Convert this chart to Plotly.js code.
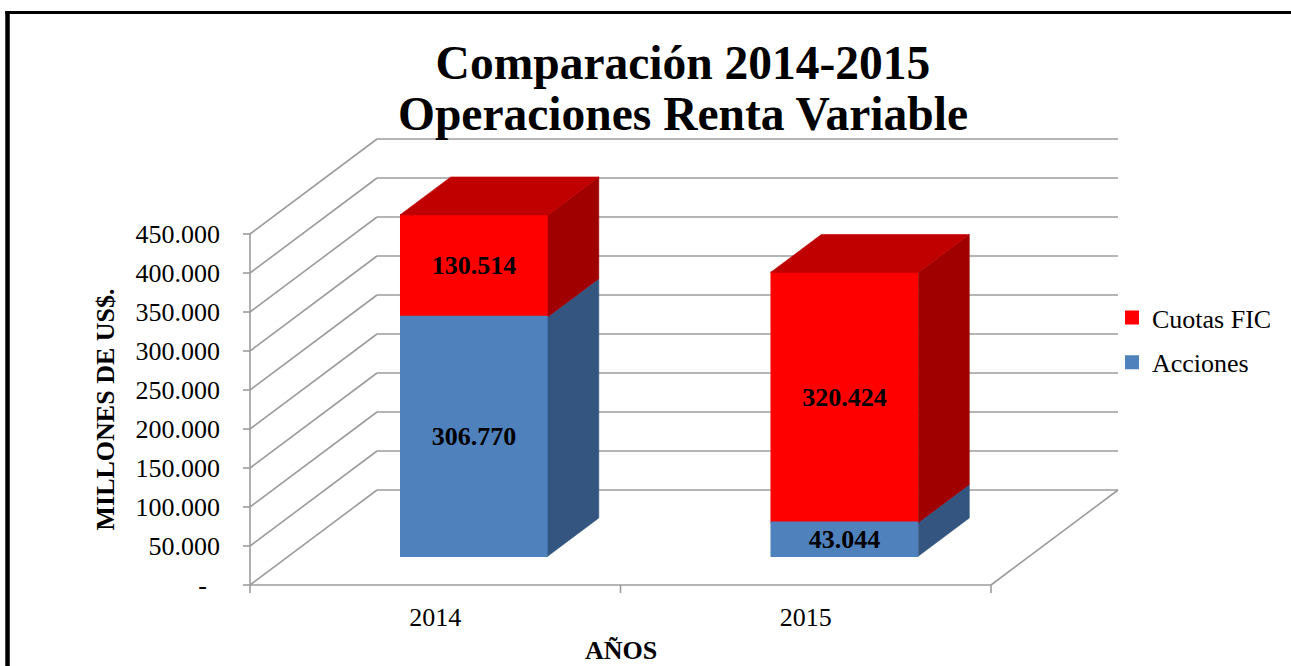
<!DOCTYPE html>
<html><head><meta charset="utf-8">
<script src="https://cdn.plot.ly/plotly-3.0.1.min.js"></script>
<style>html,body{margin:0;padding:0;background:#fff;}#chart{width:1291px;height:666px;}</style>
</head><body><div id="chart"></div>
<script>
// ---- data ----
const categories = ['2014', '2015'];
const acciones = [306770, 43044];
const cuotasFIC = [130514, 320424];
const yTickVals = [0, 50000, 100000, 150000, 200000, 250000, 300000, 350000, 400000, 450000];
const yTickText = ['-\u00a0\u00a0', '50.000', '100.000', '150.000', '200.000', '250.000', '300.000', '350.000', '400.000', '450.000'];
const seriesNames = ['Acciones', 'Cuotas FIC'];

// ---- geometry / style ----
const FONT = '"Liberation Serif", "Times New Roman", Times, serif';
const PL = 236, PR = 1124, PT = 132, PB = 598;      // plot area in px
const X0PX = 250, X1PX = 991;                       // front floor edge
const Y0PX = 585, YMAXPX = 234;                     // front axis 0 and max
const n = categories.length;
const PX = (X1PX - X0PX) / n;
const yMax = yTickVals[yTickVals.length - 1];
const PY = (Y0PX - YMAXPX) / yMax;
const DX = 127 / PX, DY = 95 / PY;                  // floor depth
const F = 0.305, D = 0.4, BW = 146 / PX;            // bar depth position, bar depth, bar width

const xRange = [-0.5 - (X0PX - PL) / PX, -0.5 + (PR - X0PX) / PX];
const yRange = [-(PB - Y0PX) / PY, (Y0PX - PT) / PY];
const toPaperX = px => (px - PL) / (PR - PL);
const toPaperY = py => (PB - py) / (PB - PT);

const GRID = {color: '#9c9c9c', width: 1.6};
const shapes = [];
const xl = -0.5, xr = n - 0.5;
function seg(x0, y0, x1, y1) {
  shapes.push({type: 'line', xref: 'x', yref: 'y', x0, y0, x1, y1, line: GRID, layer: 'below'});
}
yTickVals.forEach(v => {
  seg(xl, v, xl + DX, v + DY);                 // left wall
  seg(xl + DX, v + DY, xr + DX, v + DY);       // back wall
  seg(xl - 7 / PX, v, xl, v);                  // tick
});
seg(xl, 0, xl, yMax);                          // vertical axis
seg(xl, 0, xr, 0);                             // floor front
seg(xr, 0, xr + DX, DY);                       // floor right
for (let i = 0; i <= n; i++) seg(i - 0.5, 0, i - 0.5, -8 / PY);

// outer frame
shapes.push({type: 'line', xref: 'paper', yref: 'paper', x0: toPaperX(7.5), y0: toPaperY(11), x1: toPaperX(7.5), y1: toPaperY(700), line: {color: '#000', width: 4.5}, layer: 'above'});
shapes.push({type: 'line', xref: 'paper', yref: 'paper', x0: toPaperX(5.3), y0: toPaperY(12.5), x1: toPaperX(1300), y1: toPaperY(12.5), line: {color: '#000', width: 3}, layer: 'above'});

// ---- traces ----
const fmt = v => String(v).replace(/\B(?=(\d{3})+(?!\d))/g, '.');
const xFront = categories.map((c, i) => i + F * DX);
const accBase = acciones.map(() => F * DY);
const cuoBase = acciones.map(v => F * DY + v);
const cuoTop = cuoBase.map((b, i) => b + cuotasFIC[i]);

const labelFont = {family: FONT, size: 26, color: '#000', weight: 'bold'};
function barTrace(name, vals, base, color, group) {
  return {type: 'bar', name, x: xFront, y: vals, base, width: BW,
    marker: {color, line: {width: 2, color}}, text: vals.map(fmt), textposition: 'inside',
    insidetextanchor: 'middle', textangle: 0, textfont: labelFont, insidetextfont: labelFont,
    hoverinfo: 'skip', legendgroup: group};
}
function faces(bottoms, tops, kind) {
  const xs = [], ys = [];
  for (let i = 0; i < n; i++) {
    const xL = xFront[i] - BW / 2 - 1 / PX, xR = xFront[i] + BW / 2 + 1 / PX;
    const b = bottoms[i], t = tops[i];
    if (kind === 'side') {
      xs.push(xR, xR + D * DX, xR + D * DX, xR, xR, null);
      ys.push(b, b + D * DY, t + D * DY, t, b, null);
    } else {
      xs.push(xL, xL + D * DX, xR + D * DX, xR, xL, null);
      ys.push(t, t + D * DY, t + D * DY, t, t, null);
    }
  }
  return {xs, ys};
}
function faceTrace(f, color) {
  return {type: 'scatter', mode: 'lines', x: f.xs, y: f.ys, fill: 'toself', fillcolor: color,
    line: {color, width: 0.6}, hoverinfo: 'skip', showlegend: false};
}
const blueSide = faces(accBase, cuoBase, 'side');
const redSide = faces(cuoBase, cuoTop, 'side');
const redTop = faces(cuoBase, cuoTop, 'top');

const data = [
  barTrace(seriesNames[1], cuotasFIC, cuoBase, '#FF0000', 'g1'),
  barTrace(seriesNames[0], acciones, accBase, '#4F81BD', 'g2'),
  faceTrace(blueSide, '#33557F'),
  faceTrace(redSide, '#A00000'),
  faceTrace(redTop, '#C00000')
];

const layout = {
  width: 1291, height: 666,
  margin: {l: PL, r: 1291 - PR, t: PT, b: 666 - PB, pad: 0},
  paper_bgcolor: '#fff', plot_bgcolor: 'rgba(0,0,0,0)',
  barmode: 'overlay',
  uniformtext: {mode: 'show', minsize: 26},
  font: {family: FONT, color: '#000', size: 26},
  title: {
    text: '<span style="font-size:47.5px">Comparación 2014-2015</span><br><span style="font-size:47.5px">Operaciones Renta Variable</span>',
    font: {family: FONT, size: 39, color: '#000', weight: 'bold'},
    xref: 'container', x: 683 / 1291, xanchor: 'center',
    yref: 'container', y: 1 - 79 / 666, yanchor: 'top'
  },
  xaxis: {range: xRange, tickvals: categories.map((c, i) => i), ticktext: categories,
    showgrid: false, zeroline: false, showline: false, ticks: '', ticklen: 0,
    ticklabelstandoff: 1, tickfont: {family: FONT, size: 26, color: '#000'}, fixedrange: true},
  yaxis: {range: yRange, tickvals: yTickVals, ticktext: yTickText,
    showgrid: false, zeroline: false, showline: false, ticks: '', ticklen: 0,
    ticklabelstandoff: 15, tickfont: {family: FONT, size: 26, color: '#000'}, fixedrange: true},
  legend: {xref: 'paper', yref: 'paper', x: toPaperX(1112), xanchor: 'left',
    y: toPaperY(340), yanchor: 'middle', traceorder: 'grouped', tracegroupgap: 8,
    font: {family: FONT, size: 26, color: '#000'}, bgcolor: 'rgba(0,0,0,0)', borderwidth: 0},
  shapes,
  annotations: [
    {text: 'MILLONES DE US$.', xref: 'paper', x: 0, xshift: 105 - PL, xanchor: 'center',
      yref: 'y', y: yMax / 2, yanchor: 'middle', textangle: -90, showarrow: false,
      font: {family: FONT, size: 26, color: '#000', weight: 'bold'}},
    {text: 'AÑOS', xref: 'x', x: (n - 1) / 2, xanchor: 'center',
      yref: 'paper', y: 0, yshift: -(650 - PB), yanchor: 'middle', showarrow: false,
      font: {family: FONT, size: 26, color: '#000', weight: 'bold'}}
  ],
  showlegend: true
};

Plotly.newPlot('chart', data, layout, {displayModeBar: false, staticPlot: true});
</script>
</body></html>
